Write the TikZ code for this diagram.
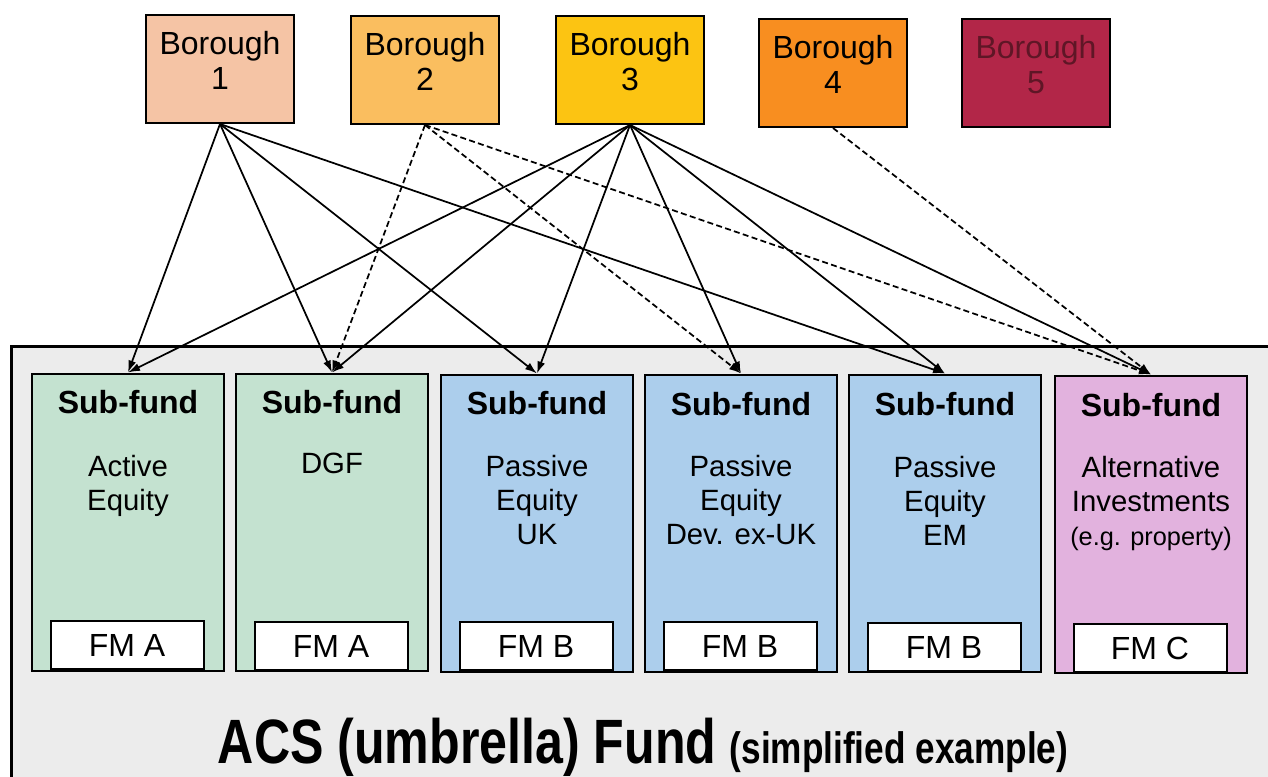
\documentclass[tikz,border=0pt]{standalone}
\usepackage{fontspec}
\setmainfont{Liberation Sans}
\newfontfamily\narrowfont[FakeStretch=0.8]{Liberation Sans}
\usepackage{xcolor}
\usepackage{tikz}
\usetikzlibrary{positioning}
\usetikzlibrary{arrows.meta}
\definecolor{boroughOne}{RGB}{245,196,165}
\definecolor{boroughTwo}{RGB}{250,190,95}
\definecolor{boroughThree}{RGB}{252,196,18}
\definecolor{boroughFour}{RGB}{248,142,32}
\definecolor{boroughFive}{RGB}{178,38,72}
\definecolor{boroughFiveText}{RGB}{95,22,38}
\definecolor{fundGreen}{RGB}{196,226,208}
\definecolor{fundBlue}{RGB}{172,206,236}
\definecolor{fundPink}{RGB}{226,178,222}
\definecolor{acsGray}{RGB}{236,236,236}
\tikzset{my_links/.style={->,>={Latex[length=9pt,width=6pt]},line width=1.3pt}}
\tikzset{my_dashed/.style={dash pattern=on 4.5pt off 2.5pt}}
\tikzset{my_borough/.style={rectangle, draw, line width=1.5pt, minimum width=111pt, minimum height=81pt, align=center, font=\fontsize{24}{26}\selectfont}}
\tikzset{my_subfund/.style={rectangle, draw, line width=1.5pt, minimum width=144pt, minimum height=222.75pt}}
\tikzset{my_manager/.style={rectangle, draw, fill=white, line width=1.5pt, minimum width=114.75pt, minimum height=36pt, font=\fontsize{24}{29}\selectfont}}
\tikzset{my_title/.style={inner sep=0pt, font=\fontsize{24}{29}\bfseries\selectfont}}
\tikzset{my_text/.style={align=center, anchor=north, inner sep=0pt, font=\fontsize{22}{25.5}\selectfont}}

\begin{document}
\begin{tikzpicture}[my_links, x=0.75pt, y=-0.75pt]
    \useasboundingbox (0,0) rectangle (1268,776);
    \clip (0,0) rectangle (1268,776);
    %\draw[help lines] (0,0) grid[step=50] (1268,776);
    \node[draw, line width=2pt, fill=acsGray, minimum width=960pt, minimum height=341pt, anchor=north west] (acs) at (10,345) {};

    \node[my_borough, fill=boroughOne] (b1) at (220,69) {Borough\\1\rule[-13pt]{0pt}{0pt}};
    \node[my_borough, fill=boroughTwo] (b2) at (425,70) {Borough\\2\rule[-13pt]{0pt}{0pt}};
    \node[my_borough, fill=boroughThree] (b3) at (630,70) {Borough\\3\rule[-13pt]{0pt}{0pt}};
    \node[my_borough, fill=boroughFour] (b4) at (833,73) {Borough\\4\rule[-13pt]{0pt}{0pt}};
    \node[my_borough, fill=boroughFive, text=boroughFiveText] (b5) at (1036,73) {Borough\\5\rule[-13pt]{0pt}{0pt}};

    \node[my_subfund, fill=fundGreen] (sf1) at (128,522) {};
    \node[my_subfund, fill=fundGreen] (sf2) at (332,522) {};
    \node[my_subfund, fill=fundBlue] (sf3) at (537,523) {};
    \node[my_subfund, fill=fundBlue] (sf4) at (741,523) {};
    \node[my_subfund, fill=fundBlue] (sf5) at (945,523) {};
    \node[my_subfund, fill=fundPink] (sf6) at (1151,524) {};

    \node[my_title] (sf1t) at (128,402) {Sub-fund};
    \node[my_title] (sf2t) at (332,402) {Sub-fund};
    \node[my_title] (sf3t) at (537,403) {Sub-fund};
    \node[my_title] (sf4t) at (741,404) {Sub-fund};
    \node[my_title] (sf5t) at (945,404) {Sub-fund};
    \node[my_title] (sf6t) at (1151,405) {Sub-fund};

    \node[my_text] (sf1d) at (128,454) {Active\\Equity};
    \node[my_text] (sf2d) at (332,452) {DGF};
    \node[my_text] (sf3d) at (537,454) {Passive\\Equity\\UK};
    \node[my_text] (sf4d) at (741,454) {Passive\\Equity\\Dev. ex-UK};
    \node[my_text] (sf5d) at (945,455) {Passive\\Equity\\EM};
    \node[my_text] (sf6d) at (1151,455) {Alternative\\Investments\\{\fontsize{19}{22}\selectfont (e.g. property)}};

    \node[my_manager] (fm1) at (127,645) {FM A};
    \node[my_manager] (fm2) at (331,646) {FM A};
    \node[my_manager] (fm3) at (536,646) {FM B};
    \node[my_manager] (fm4) at (740,646) {FM B};
    \node[my_manager] (fm5) at (944,647) {FM B};
    \node[my_manager] (fm6) at (1150,648) {FM C};

    \node[anchor=base west, inner sep=0pt] (acst) at (217,763) {\narrowfont\bfseries{\fontsize{47}{50}\selectfont ACS (umbrella) Fund}\hspace{10pt}{\fontsize{33}{36}\selectfont (simplified example)}};

    \path
        (b1.south) edge (sf1.north)
        (b1.south) edge (sf2.north)
        (b1.south) edge (sf3.north)
        (b1.south) edge (sf5.north)
        (b2.south) edge [my_dashed] (sf2.north)
        (b2.south) edge [my_dashed] (sf4.north)
        (b2.south) edge [my_dashed] (sf6.north)
        (b3.south) edge (sf1.north)
        (b3.south) edge (sf2.north)
        (b3.south) edge (sf3.north)
        (b3.south) edge (sf4.north)
        (b3.south) edge (sf5.north)
        (b3.south) edge (sf6.north)
        (b4.south) edge [my_dashed] (sf6.north)
    ;
\end{tikzpicture}
\end{document}
